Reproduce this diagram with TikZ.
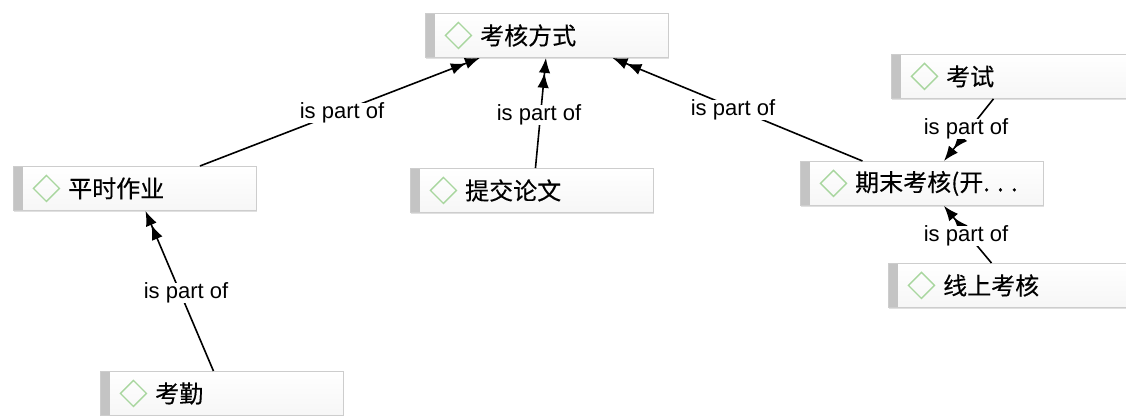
\documentclass[tikz,border=0pt]{standalone}
\usepackage{fontspec}
\setmainfont{Liberation Sans}
\newfontfamily\cjk[FakeBold=0.25]{Noto Sans CJK SC}
\usetikzlibrary{arrows.meta,shadows}
\definecolor{dgreen}{RGB}{168,214,158}
\definecolor{boxline}{RGB}{205,205,205}
\definecolor{barfill}{RGB}{196,196,196}
\begin{document}
\begin{tikzpicture}[x=1pt,y=-1pt,
  box/.style={draw=boxline, line width=0.9pt, top color=white, bottom color=gray!7,
    minimum width=243pt, minimum height=44pt, anchor=north west, inner sep=0pt,
    drop shadow={shadow xshift=1pt, shadow yshift=-2pt, opacity=0.12, fill=black},
    path picture={
      \fill[barfill] (path picture bounding box.north west) rectangle ([xshift=10pt]path picture bounding box.south west);
      \draw[dgreen, line width=1.4pt, line join=miter]
        ([xshift=20pt]path picture bounding box.west) --
        ([xshift=33pt,yshift=13pt]path picture bounding box.west) --
        ([xshift=46pt]path picture bounding box.west) --
        ([xshift=33pt,yshift=-13pt]path picture bounding box.west) -- cycle;
    }},
  boxtext/.style={anchor=west, inner sep=0pt, font=\cjk\fontsize{24}{29}\selectfont},
  conn/.style={line width=1.6pt, -{Latex[length=15pt,width=11.5pt]Latex[length=15pt,width=11.5pt]}},
  lab/.style={fill=white, inner xsep=1.5pt, inner ysep=0pt, font=\fontsize{22}{26}\selectfont}
]
\useasboundingbox (0,0) rectangle (1126,415);
\clip (0,0) rectangle (1126,415);

% boxes
\node[box] (fm) at (425,13) {};
\node[boxtext] (fmt) at ([xshift=55pt]fm.west) {考核方式};
\node[box] (ps) at (13,166) {};
\node[boxtext] (pst) at ([xshift=55pt]ps.west) {平时作业};
\node[box] (tj) at (410,168) {};
\node[boxtext] (tjt) at ([xshift=55pt]tj.west) {提交论文};
\node[box] (ks) at (891,54) {};
\node[boxtext] (kst) at ([xshift=55pt]ks.west) {考试};
\node[box] (qm) at (800,161) {};
\node[boxtext] (qmt) at ([xshift=55pt]qm.west) {期末考核(开. . .};
\node[box] (xs) at (888,263) {};
\node[boxtext] (xst) at ([xshift=55pt]xs.west) {线上考核};
\node[box] (kq) at (100,371) {};
\node[boxtext] (kqt) at ([xshift=55pt]kq.west) {考勤};

% connectors
\draw[conn] ([xshift=65pt]ps.north) -- ([xshift=-67pt]fm.south);
\draw[conn] ([xshift=3.5pt]tj.north) -- ([xshift=-1pt]fm.south);
\draw[conn] ([xshift=-59.5pt]qm.north) -- ([xshift=65.5pt]fm.south);
\draw[conn] ([xshift=-19.5pt]ks.south) -- ([xshift=22pt]qm.north);
\draw[conn] ([xshift=-18.5pt]xs.north) -- ([xshift=22pt]qm.south);
\draw[conn] ([xshift=-8.5pt]kq.north) -- ([xshift=10.5pt]ps.south);

% labels
\node[lab] (l1) at (342,113) {is part of};
\node[lab] (l2) at (539,115) {is part of};
\node[lab] (l3) at (733,110) {is part of};
\node[lab] (l4) at (966,129) {is part of};
\node[lab] (l5) at (966,236) {is part of};
\node[lab] (l6) at (186,293) {is part of};
\end{tikzpicture}
\end{document}
